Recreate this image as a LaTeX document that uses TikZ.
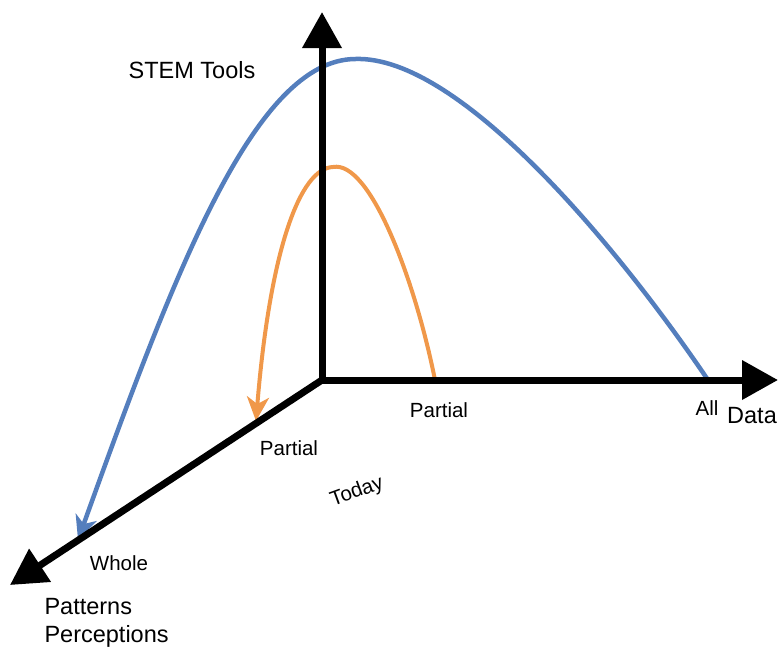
\documentclass[tikz,border=0pt]{standalone}
\usepackage{fontspec}
\setmainfont{Liberation Sans}
\usetikzlibrary{arrows.meta}
\definecolor{curveblue}{RGB}{84,126,189}
\definecolor{curveorange}{RGB}{240,152,74}
\tikzset{
  axis/.style={line width=7pt,-{Triangle[length=36pt,width=38pt]}},
  trend/.style={line width=4.5pt,-{Stealth[length=24pt,width=22pt,inset=7pt]}},
  lbl/.style={font=\fontsize{20.5}{24}\selectfont},
  biglbl/.style={font=\fontsize{23.5}{28}\selectfont}
}
\begin{document}
\begin{tikzpicture}[x=1pt,y=-1pt]
  \useasboundingbox (0,0) rectangle (778,649);
  \coordinate (O) at (322,380);
  \coordinate (ztip) at (322,12);
  \coordinate (xtip) at (778,380);
  \coordinate (ytip) at (10,585);
  % curves
  \coordinate (bstart) at (708,380);
  \coordinate (bpeak) at (355,59);
  \coordinate (bend) at (78,540);
  \coordinate (ostart) at (435,380);
  \coordinate (opeak) at (333,167);
  \coordinate (oend) at (256,421);
  \draw[trend,curveblue] (bstart) .. controls (620,250) and (460,55) .. (bpeak)
    .. controls (255,60) and (175,270) .. (bend);
  \draw[trend,curveorange,line width=4pt] (ostart) .. controls (415,280) and (370,160) .. (opeak)
    .. controls (300,168) and (270,250) .. (oend);
  % axes
  \draw[axis] (O) -- (ztip);
  \draw[axis] (O) -- (xtip);
  \draw[axis] (O) -- (ytip);
  % labels
  \node[biglbl] (stem) at (192,70) {STEM Tools};
  \node[lbl] (xpartial) at (439,410) {Partial};
  \node[lbl] (all) at (707,408) {All};
  \node[biglbl] (data) at (752,416) {Data};
  \node[lbl] (ypartial) at (289,448) {Partial};
  \node[lbl,rotate=20] (today) at (357,492) {Today};
  \node[lbl] (whole) at (119,563) {Whole};
  \node[biglbl,anchor=west,align=left] (pp) at (41,623) {Patterns\\Perceptions};
\end{tikzpicture}
\end{document}
